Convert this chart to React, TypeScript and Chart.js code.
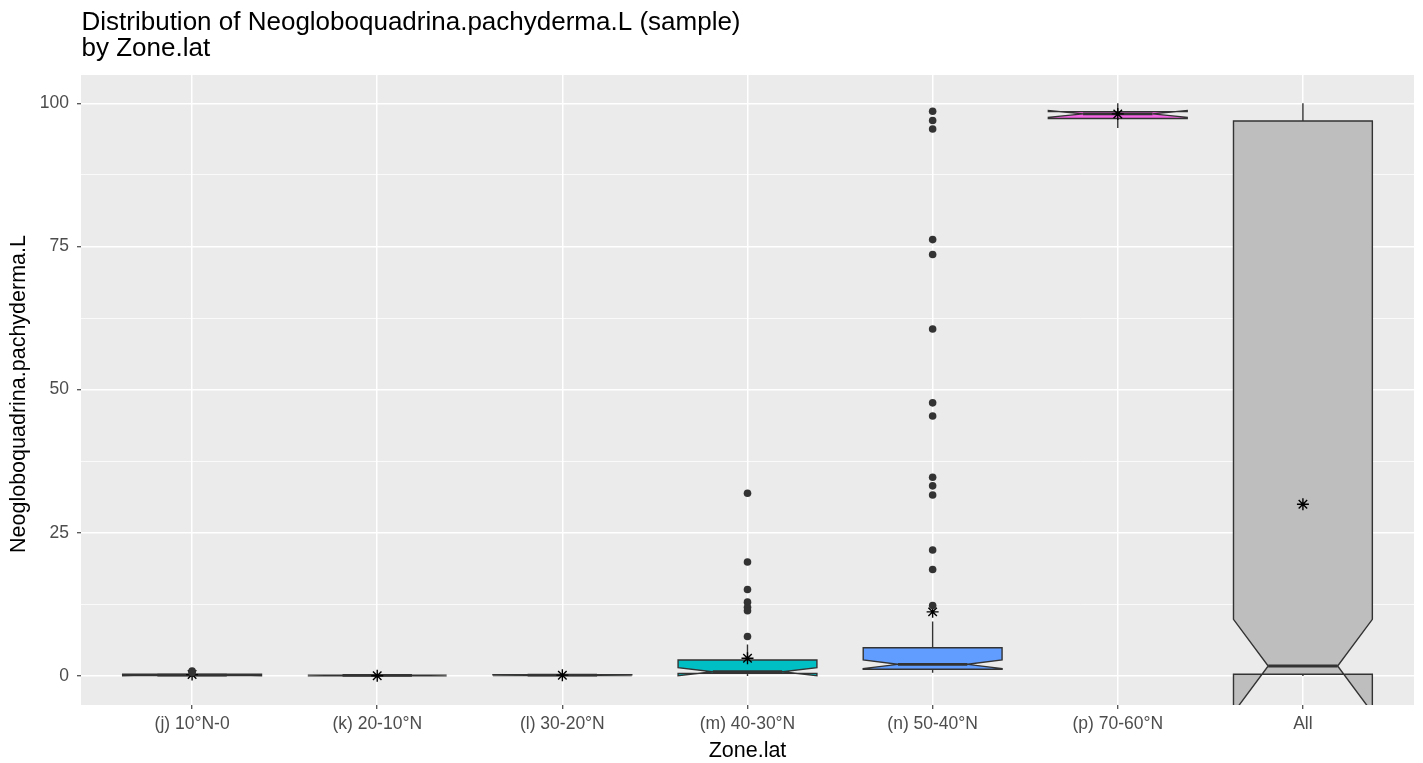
import React, { useEffect, useRef } from 'react';
import { Chart, registerables } from 'chart.js';

Chart.register(...registerables);

const categories = ['(j) 10°N-0', '(k) 20-10°N', '(l) 30-20°N', '(m) 40-30°N', '(n) 50-40°N', '(p) 70-60°N', 'All'];
const whiskerLow = [0, 0, 0, 0, 0.58, 95.7, 0];
const q1 = [0.1, 0.05, 0.1, 0.47, 1.17, 97.35, 0.3];
const median = [0.15, 0.1, 0.15, 0.75, 2.04, 98.15, 1.75];
const q3 = [0.3, 0.15, 0.25, 2.79, 4.94, 98.55, 96.9];
const whiskerHigh = [0.45, 0.3, 0.3, 5.5, 9.5, 100, 100];
const notchLow = [0.05, 0.05, 0.1, 0.05, 1.3, 97.55, -6.4];
const notchHigh = [0.25, 0.15, 0.2, 1.45, 2.8, 98.75, 9.9];
const means = [0.25, 0.05, 0.15, 3.1, 11.2, 98.15, 30.0];
const boxFills = ['#F8766D', '#B79F00', '#00BA38', '#00BFC4', '#619CFF', '#F564E3', '#BEBEBE'];

const outliersJ = [0.85, 0.6];
const outliersK: number[] = [];
const outliersL: number[] = [];
const outliersM = [31.9, 19.9, 15.1, 12.9, 12.0, 11.4, 6.9];
const outliersN = [98.6, 97.0, 95.5, 76.2, 73.6, 60.6, 47.7, 45.4, 34.7, 33.2, 31.6, 22.0, 18.6, 12.3];
const outliersP: number[] = [];
const outliersAll: number[] = [];
const outlierLists = [outliersJ, outliersK, outliersL, outliersM, outliersN, outliersP, outliersAll];

const yTicks = [0, 12.5, 25, 37.5, 50, 62.5, 75, 87.5, 100];
const yMin = -5.06;
const yMax = 104.94;

const titleLines = ['Distribution of Neogloboquadrina.pachyderma.L (sample)', 'by Zone.lat'];
const xTitle = 'Zone.lat';
const yTitle = 'Neogloboquadrina.pachyderma.L';

const FONT = '"Liberation Sans", Arial, sans-serif';

const boxPlugin = {
  id: 'boxes',
  beforeDraw(chart: any) {
    const { ctx, chartArea } = chart;
    ctx.save();
    ctx.fillStyle = '#EBEBEB';
    ctx.fillRect(chartArea.left, chartArea.top, chartArea.right - chartArea.left, chartArea.bottom - chartArea.top);
    ctx.restore();
  },
  beforeDatasetsDraw(chart: any) {
    const { ctx, chartArea } = chart;
    const xs = chart.scales.x;
    const ys = chart.scales.y;
    const py = (v: number) => ys.getPixelForValue(v);
    ctx.save();
    ctx.beginPath();
    ctx.rect(chartArea.left, chartArea.top, chartArea.right - chartArea.left, chartArea.bottom - chartArea.top);
    ctx.clip();
    ctx.strokeStyle = '#333333';
    ctx.lineJoin = 'miter';
    for (let i = 0; i < categories.length; i++) {
      const xc = xs.getPixelForValue(i);
      const half = xs.getPixelForValue(i + 0.375) - xc;
      const nh = half * 0.5;
      // whiskers
      ctx.lineWidth = 1.4;
      ctx.beginPath();
      ctx.moveTo(xc, py(q3[i]));
      ctx.lineTo(xc, py(whiskerHigh[i]));
      ctx.moveTo(xc, py(q1[i]));
      ctx.lineTo(xc, py(whiskerLow[i]));
      ctx.stroke();
      // notched box
      ctx.beginPath();
      ctx.moveTo(xc - half, py(q3[i]));
      ctx.lineTo(xc - half, py(notchHigh[i]));
      ctx.lineTo(xc - nh, py(median[i]));
      ctx.lineTo(xc - half, py(notchLow[i]));
      ctx.lineTo(xc - half, py(q1[i]));
      ctx.lineTo(xc + half, py(q1[i]));
      ctx.lineTo(xc + half, py(notchLow[i]));
      ctx.lineTo(xc + nh, py(median[i]));
      ctx.lineTo(xc + half, py(notchHigh[i]));
      ctx.lineTo(xc + half, py(q3[i]));
      ctx.closePath();
      ctx.fillStyle = boxFills[i];
      ctx.fill();
      ctx.lineWidth = 1.4;
      ctx.stroke();
      // median
      ctx.beginPath();
      ctx.lineWidth = 2.8;
      ctx.moveTo(xc - nh, py(median[i]));
      ctx.lineTo(xc + nh, py(median[i]));
      ctx.stroke();
    }
    ctx.restore();
  },
  afterDraw(chart: any) {
    const { ctx, chartArea } = chart;
    ctx.save();
    ctx.fillStyle = '#000000';
    ctx.textAlign = 'left';
    ctx.textBaseline = 'alphabetic';
    ctx.font = `26px ${FONT}`;
    ctx.fillText(titleLines[0], 81.5, 30);
    ctx.fillText(titleLines[1], 81.5, 55.5);
    ctx.font = `21.5px ${FONT}`;
    ctx.textAlign = 'center';
    ctx.fillText(xTitle, (chartArea.left + chartArea.right) / 2, 757);
    ctx.translate(25, (chartArea.top + chartArea.bottom) / 2 + 4);
    ctx.rotate(-Math.PI / 2);
    ctx.fillText(yTitle, 0, 0);
    ctx.restore();
  },
};

export default function App() {
  const canvasRef = useRef<HTMLCanvasElement | null>(null);

  useEffect(() => {
    const canvas = canvasRef.current;
    if (!canvas) return;
    const outlierPoints: { x: number; y: number }[] = [];
    outlierLists.forEach((list, i) => list.forEach((v) => outlierPoints.push({ x: i, y: v })));
    const meanPoints = means.map((v, i) => ({ x: i, y: v }));

    const chart = new Chart(canvas, {
      type: 'scatter',
      data: {
        datasets: [
          {
            label: 'outliers',
            data: outlierPoints,
            pointStyle: 'circle',
            pointRadius: 3.8,
            pointBackgroundColor: '#333333',
            pointBorderColor: '#333333',
            pointBorderWidth: 0,
          },
          {
            label: 'mean',
            data: meanPoints,
            pointStyle: 'star',
            pointRadius: 6,
            pointBackgroundColor: '#000000',
            pointBorderColor: '#000000',
            pointBorderWidth: 1.4,
          },
        ],
      },
      options: {
        animation: false,
        responsive: false,
        events: [],
        layout: { padding: { left: 0, top: 75, right: 9, bottom: 0 } },
        plugins: {
          legend: { display: false },
          tooltip: { enabled: false },
          title: { display: false },
        },
        scales: {
          x: {
            type: 'linear',
            min: -0.6,
            max: 6.6,
            afterBuildTicks: (scale: any) => {
              scale.ticks = categories.map((_, i) => ({ value: i }));
            },
            afterFit: (scale: any) => {
              scale.height = 58;
            },
            ticks: {
              autoSkip: false,
              maxRotation: 0,
              minRotation: 0,
              padding: 5,
              color: '#4D4D4D',
              font: { family: FONT, size: 17.5 },
              callback: (v: any) => categories[Number(v)] ?? '',
            },
            grid: {
              color: '#FFFFFF',
              lineWidth: 1.5,
              drawTicks: true,
              tickLength: 4,
              tickColor: '#333333',
              tickWidth: 1.1,
            },
            border: { display: false },
          },
          y: {
            type: 'linear',
            min: yMin,
            max: yMax,
            afterBuildTicks: (scale: any) => {
              scale.ticks = yTicks.map((v) => ({ value: v }));
            },
            afterFit: (scale: any) => {
              scale.width = 81;
            },
            ticks: {
              autoSkip: false,
              padding: 8,
              color: '#4D4D4D',
              font: { family: FONT, size: 17.5 },
              callback: (v: any) => (Number(v) % 25 === 0 ? String(v) : ''),
            },
            grid: {
              color: '#FFFFFF',
              lineWidth: (ctx: any) => (ctx.tick && ctx.tick.value % 25 === 0 ? 1.5 : 0.75),
              drawTicks: true,
              tickLength: 4,
              tickColor: (ctx: any) => (ctx.tick && ctx.tick.value % 25 === 0 ? '#333333' : 'rgba(0,0,0,0)'),
              tickWidth: 1.1,
            },
            border: { display: false },
          },
        },
      },
      plugins: [boxPlugin],
    } as any);

    return () => {
      chart.destroy();
    };
  }, []);

  return (
    <div style={{ position: 'absolute', left: 0, top: 0, width: 1423, height: 763, background: '#FFFFFF' }}>
      <canvas ref={canvasRef} width={1423} height={763} style={{ display: 'block' }} />
    </div>
  );
}
